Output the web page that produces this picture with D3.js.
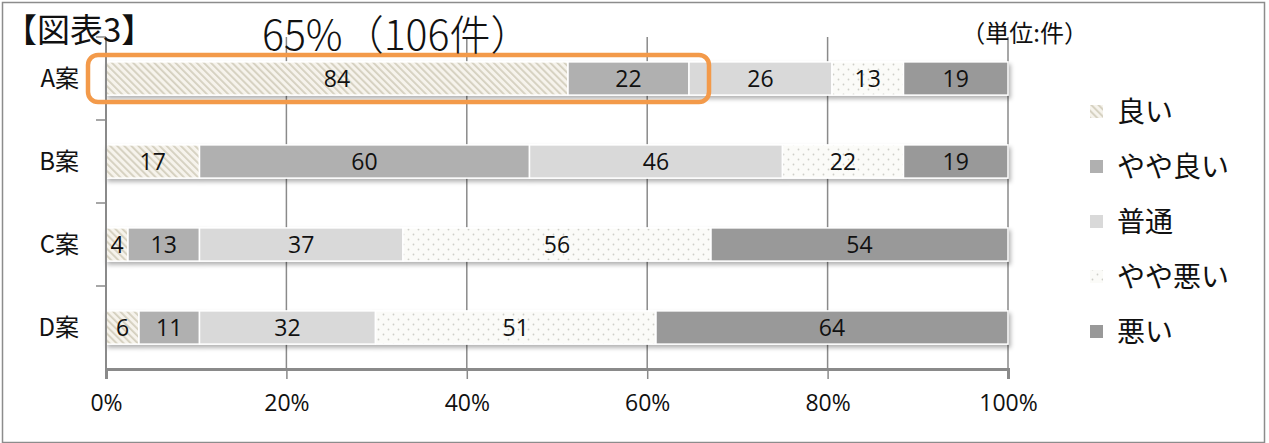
<!DOCTYPE html>
<html>
<head>
<meta charset="utf-8">
<script src="https://cdn.jsdelivr.net/npm/d3@7"></script>
<style>
  body { margin: 0; background: #fff; }
  svg { display: block; font-family: "Noto Sans CJK JP", "Noto Sans", sans-serif; }
</style>
</head>
<body>
<svg id="chart"></svg>
<script>
// categories and series (counts, 件)
const categories = ["A案", "B案", "C案", "D案"];
const seriesNames = ["良い", "やや良い", "普通", "やや悪い", "悪い"];
const values = [
  [84, 22, 26, 13, 19],
  [17, 60, 46, 22, 19],
  [4, 13, 37, 56, 54],
  [6, 11, 32, 51, 64]
];
const tickValues = [0, 0.2, 0.4, 0.6, 0.8, 1];

const width = 1269, height = 443;
const margin = { top: 37, right: 261, bottom: 74, left: 106 };

const svg = d3.select('#chart').attr('width', width).attr('height', height);
const defs = svg.append('defs');

// patterns for the hatched / dotted series
const hatch = defs.append('pattern').attr('id', 'hatch')
  .attr('patternUnits', 'userSpaceOnUse').attr('width', 5).attr('height', 5)
  .attr('patternTransform', 'rotate(-45)');
hatch.append('rect').attr('width', 5).attr('height', 5).attr('fill', '#f6f3ec');
hatch.append('rect').attr('width', 1.8).attr('height', 5).attr('fill', '#d4cfbe');

const dots = defs.append('pattern').attr('id', 'dots')
  .attr('patternUnits', 'userSpaceOnUse').attr('width', 10).attr('height', 10);
dots.append('rect').attr('width', 10).attr('height', 10).attr('fill', '#fbfbf8');
dots.append('circle').attr('cx', 2.5).attr('cy', 2.5).attr('r', 0.9).attr('fill', '#cfcfc8');
dots.append('circle').attr('cx', 7.5).attr('cy', 7.5).attr('r', 0.9).attr('fill', '#cfcfc8');

const shadow = defs.append('filter').attr('id', 'shadow')
  .attr('x', '-5%').attr('y', '-20%').attr('width', '115%').attr('height', '160%');
shadow.append('feDropShadow').attr('dx', 2).attr('dy', 3).attr('stdDeviation', 2)
  .attr('flood-color', '#000').attr('flood-opacity', 0.3);

const fills = ['url(#hatch)', '#b0b0b0', '#d9d9d9', 'url(#dots)', '#999999'];

// outer frame
svg.append('rect').attr('x', 2.5).attr('y', 2.5).attr('width', 1262).attr('height', 440)
  .attr('fill', 'none').attr('stroke', '#8c8c8c').attr('stroke-width', 1.5);

const innerW = width - margin.left - margin.right;
const innerH = height - margin.top - margin.bottom;

const x = d3.scaleLinear().domain([0, 1]).range([0, innerW]);
const y = d3.scaleBand().domain(categories).range([0, innerH]).paddingInner(0.6).paddingOuter(0.3);
const yEdge = d3.scaleBand().domain(categories).range([0, innerH]);

const g = svg.append('g').attr('transform', `translate(${margin.left},${margin.top})`);

// gridlines
g.append('g').selectAll('line').data(tickValues.slice(1)).join('line')
  .attr('x1', d => x(d)).attr('x2', d => x(d))
  .attr('y1', 0).attr('y2', innerH)
  .attr('stroke', '#8a8a8a').attr('stroke-width', 1.5);

// stacked data
const rows = values.map((v, i) => {
  const total = d3.sum(v);
  let acc = 0;
  return v.map((val, j) => {
    const seg = { cat: categories[i], s: j, val, x0: acc / total, x1: (acc + val) / total };
    acc += val;
    return seg;
  });
});

const barG = g.append('g').selectAll('g').data(rows).join('g')
  .attr('filter', 'url(#shadow)');
barG.selectAll('rect').data(d => d).join('rect')
  .attr('x', d => x(d.x0)).attr('width', d => x(d.x1) - x(d.x0))
  .attr('y', d => y(d.cat)).attr('height', y.bandwidth())
  .attr('fill', d => fills[d.s])
  .attr('stroke', '#fff').attr('stroke-width', 1.5);

g.append('g').selectAll('text').data(rows.flat()).join('text')
  .attr('x', d => x((d.x0 + d.x1) / 2))
  .attr('y', d => y(d.cat) + y.bandwidth() / 2)
  .attr('dy', '0.36em')
  .attr('text-anchor', 'middle')
  .attr('font-family', '"Open Sans", "Noto Sans", sans-serif')
  .attr('font-size', 23)
  .attr('fill', '#111')
  .text(d => d.val);

// left axis with ticks at band edges
g.append('line').attr('x1', 0).attr('x2', 0).attr('y1', 0).attr('y2', innerH)
  .attr('stroke', '#8a8a8a').attr('stroke-width', 2);
g.append('g').selectAll('line').data(categories).join('line')
  .attr('x1', -10).attr('x2', 0)
  .attr('y1', d => yEdge(d)).attr('y2', d => yEdge(d))
  .attr('stroke', '#8a8a8a').attr('stroke-width', 1.5);
g.append('g').selectAll('text').data(categories).join('text')
  .attr('x', -27).attr('y', d => y(d) + y.bandwidth() / 2)
  .attr('dy', '0.36em').attr('text-anchor', 'end')
  .attr('font-size', 24).attr('fill', '#111')
  .text(d => d);

// bottom axis
const xAxis = g.append('g').attr('transform', `translate(0,${innerH})`)
  .call(d3.axisBottom(x).tickValues(tickValues).tickSize(10).tickPadding(16).tickFormat(d3.format('.0%')));
xAxis.select('.domain').attr('stroke', '#8a8a8a').attr('stroke-width', 3);
xAxis.selectAll('.tick line').attr('stroke', '#8a8a8a').attr('stroke-width', 1.5);
xAxis.selectAll('.tick text')
  .attr('font-family', '"Liberation Sans Narrow", "Open Sans", sans-serif')
  .attr('font-size', 23).attr('fill', '#111');

// highlight box around 良い + やや良い of A案
const aRow = rows[0];
const hiEnd = aRow[1].x1;
g.append('rect')
  .attr('x', -18).attr('y', y('A案') - 7)
  .attr('width', x(hiEnd) + 18 + 20).attr('height', y.bandwidth() + 14)
  .attr('rx', 10)
  .attr('fill', 'none').attr('stroke', '#f39a4a').attr('stroke-width', 4.5);

const hiCount = aRow[0].val + aRow[1].val;
svg.append('text')
  .attr('x', 262).attr('y', 50)
  .attr('font-family', '"Noto Sans CJK JP", sans-serif')
  .attr('font-weight', 300)
  .attr('font-size', 41).attr('fill', '#111')
  .text(`${Math.round(hiEnd * 100)}%（${hiCount}件）`);

// titles
svg.append('text').attr('x', 4).attr('y', 42)
  .attr('font-size', 33).attr('font-weight', 400).attr('fill', '#111')
  .text('【図表3】');
svg.append('text').attr('x', 1088).attr('y', 42).attr('text-anchor', 'end')
  .attr('font-size', 24).attr('fill', '#111')
  .text('（単位:件）');

// legend
const legend = svg.append('g').attr('transform', 'translate(1090,112)');
const item = legend.selectAll('g').data(seriesNames).join('g')
  .attr('transform', (d, i) => `translate(0,${i * 55})`);
item.append('rect').attr('x', 0).attr('y', -7).attr('width', 13).attr('height', 13)
  .attr('fill', (d, i) => fills[i]);
item.append('text').attr('x', 27).attr('dy', '0.36em')
  .attr('font-size', 28).attr('fill', '#111')
  .text(d => d);
</script>
</body>
</html>
